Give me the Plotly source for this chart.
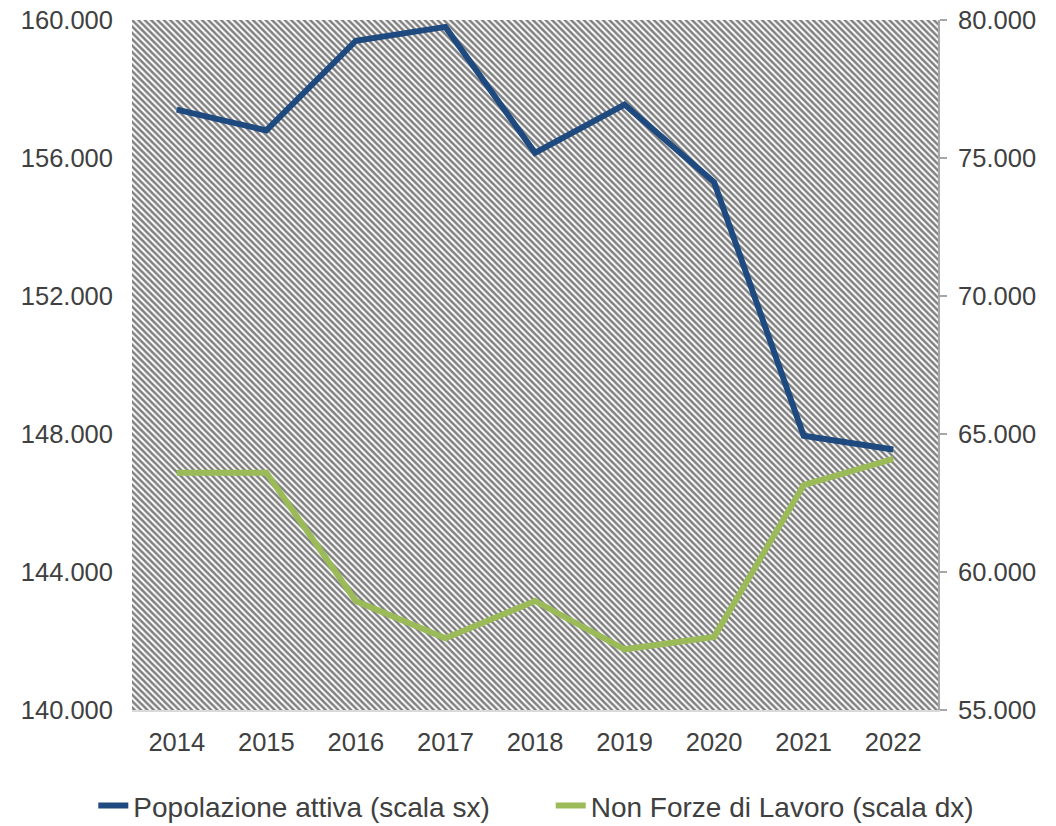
import plotly.graph_objects as go

years = ['2014', '2015', '2016', '2017', '2018', '2019', '2020', '2021', '2022']
popolazione_attiva = [157400, 156800, 159400, 159800, 156150, 157550, 155300, 147950, 147550]
non_forze_lavoro = [63600, 63600, 58950, 57600, 58950, 57200, 57650, 63150, 64100]

left_ticks = [140000, 144000, 148000, 152000, 156000, 160000]
right_ticks = [55000, 60000, 65000, 70000, 75000, 80000]

FONT = "Liberation Sans, Arial, sans-serif"
TXT = "#404040"
TICK = 25.5
LEG = 28

fig = go.Figure()

# hatched plot background
fig.add_trace(go.Bar(
    x=[0.5], y=[1], width=[1], xaxis="x", yaxis="y",
    marker=dict(color="white", line_width=0,
                pattern=dict(shape="\\", size=4.5, solidity=0.55,
                             fgcolor="black", bgcolor="white")),
    showlegend=False, hoverinfo="skip",
))

fig.add_trace(go.Scatter(
    x=years, y=popolazione_attiva, xaxis="x2", yaxis="y2",
    mode="lines", name="Popolazione attiva (scala sx)", legend="legend",
    line=dict(color="#1F4A7F", width=6),
))
fig.add_trace(go.Scatter(
    x=years, y=non_forze_lavoro, xaxis="x2", yaxis="y3",
    mode="lines", name="Non Forze di Lavoro (scala dx)", legend="legend2",
    line=dict(color="#9BBB59", width=6),
))

leg_common = dict(orientation="h", y=-0.139, yanchor="middle", xanchor="left",
                  font=dict(size=LEG, color=TXT), itemwidth=30,
                  bgcolor="rgba(0,0,0,0)")

fig.update_layout(
    width=1056, height=826,
    margin=dict(l=132, r=118, t=20, b=116, autoexpand=False),
    paper_bgcolor="white", plot_bgcolor="white",
    separators=",.",
    font=dict(family=FONT, color=TXT, size=TICK),
    bargap=0,
    xaxis=dict(range=[0, 1], visible=False, fixedrange=True),
    yaxis=dict(range=[0, 1], visible=False, fixedrange=True),
    xaxis2=dict(type="category", categoryorder="array", categoryarray=years,
                range=[-0.5, 8.5], overlaying="x", anchor="y2", automargin=False,
                showline=True, linecolor="#d9d9d9", linewidth=2,
                showgrid=False, ticks="", ticklabelstandoff=8,
                tickfont=dict(size=TICK, color=TXT)),
    yaxis2=dict(range=[140000, 160000], tickvals=left_ticks, tickformat=",d",
                overlaying="y", anchor="x2", side="left", automargin=False,
                showline=False, showgrid=False, zeroline=False, ticks="",
                ticklabelstandoff=18, tickfont=dict(size=TICK, color=TXT)),
    yaxis3=dict(range=[55000, 80000], tickvals=right_ticks, tickformat=",d",
                overlaying="y", anchor="x2", side="right", automargin=False,
                showline=True, linecolor="#a6a6a6", linewidth=2,
                ticks="outside", ticklen=7, tickcolor="#a6a6a6", tickwidth=1.5,
                showgrid=False, zeroline=False, ticklabelstandoff=6,
                tickfont=dict(size=TICK, color=TXT)),
    legend=dict(x=-0.048, **leg_common),
    legend2=dict(x=0.5195, **leg_common),
    showlegend=True,
)

fig.write_html("out.html", post_script="document.body.style.margin='0';",
               config={"displayModeBar": False})
